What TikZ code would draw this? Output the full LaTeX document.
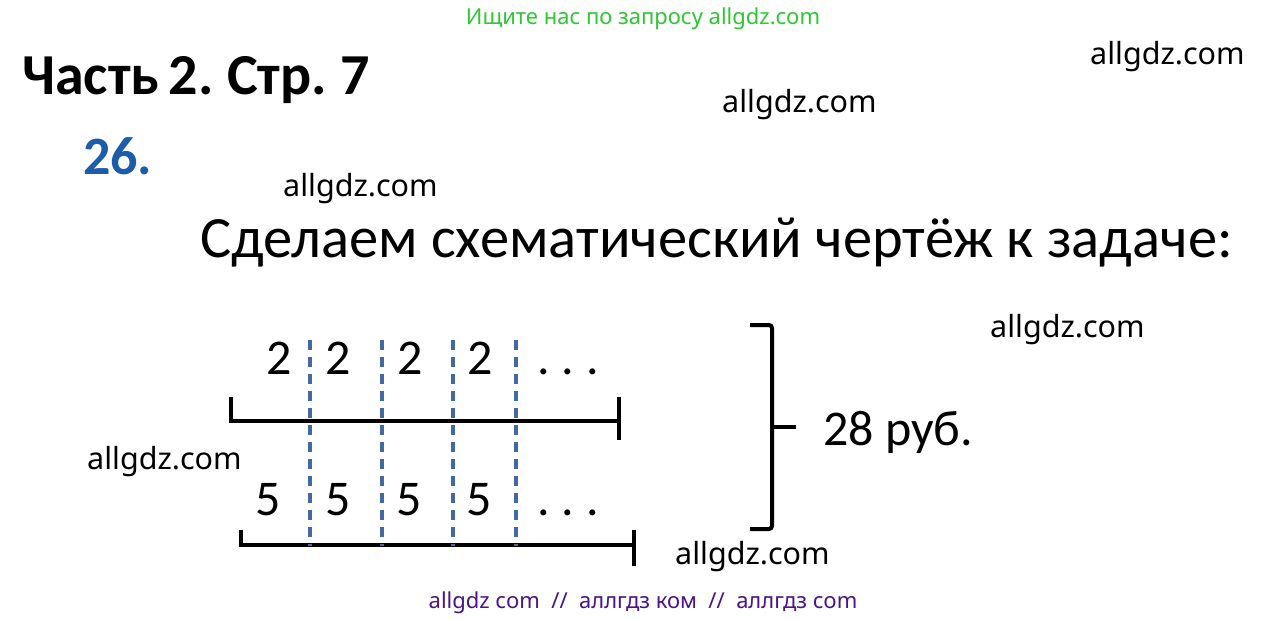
\documentclass[tikz,border=0pt]{standalone}
\usepackage{fontspec}
\setmainfont{Carlito}
\newfontfamily\wmfont{Noto Sans}
\definecolor{wmgreen}{RGB}{45,200,50}
\definecolor{wmpurple}{RGB}{74,20,140}
\definecolor{numblue}{RGB}{28,92,170}
\definecolor{dashblue}{RGB}{64,106,160}
\tikzset{
  wm/.style={font=\wmfont\fontsize{30.5}{36}\selectfont, anchor=base west, inner sep=0pt},
  big/.style={font=\fontsize{50}{60}\selectfont, anchor=base, inner sep=0pt},
  seg/.style={line width=4pt, line cap=butt},
  divline/.style={dashblue, line width=3.5pt, dash pattern=on 10pt off 7pt},
  brace/.style={line width=4pt, rounded corners=3pt}
}
\begin{document}
\begin{tikzpicture}[x=1pt,y=-1pt]
\useasboundingbox[fill=white] (0,0) rectangle (1287,620);
% header texts
\node[font=\wmfont\fontsize{22}{26}\selectfont, text=wmgreen, anchor=base, inner sep=0pt] (top) at (643,25) {Ищите нас по запросу allgdz.com};
\node[font=\bfseries\fontsize{58}{66}\selectfont, anchor=base west, inner sep=0pt] (title) at (22,95) {\spaceskip=0.16em Часть 2. Стр. 7};
\node[font=\bfseries\fontsize{54}{62}\selectfont, text=numblue, anchor=base west, inner sep=0pt] (num) at (83,175) {26.};
\node[font=\fontsize{58.5}{68}\selectfont, anchor=base west, inner sep=0pt] (head) at (200,258) {Сделаем схематический чертёж к задаче:};
% watermarks
\node[wm] (w1) at (1090,65) {allgdz.com};
\node[wm] (w2) at (722,113) {allgdz.com};
\node[wm] (w3) at (283,197) {allgdz.com};
\node[wm] (w4) at (990,337) {allgdz.com};
\node[wm] (w5) at (87,469) {allgdz.com};
\node[wm] (w6) at (675,564) {allgdz.com};
\node[font=\wmfont\fontsize{22}{26}\selectfont, text=wmpurple, anchor=base, inner sep=0pt] (bot) at (643,608) {allgdz com \ // \ аллгдз ком \ // \ аллгдз com};
% segments
\coordinate (a1) at (231,421); \coordinate (a2) at (619,421);
\coordinate (b1) at (241,545); \coordinate (b2) at (634,545);
\draw[seg] (231,397) -- (a1) -- (a2);
\draw[seg] (619,397) -- (619,440);
\draw[seg] (241,530) -- (b1) -- (b2);
\draw[seg] (634,530) -- (634,566);
% dividers
\foreach \x in {310,382,453,516} {
  \draw[divline] (\x,340) -- (\x,546);
}
% numbers
\foreach \x/\n in {279/t1,338/t2,410/t3,480/t4} {
  \node[big] (\n) at (\x,374) {2};
}
\foreach \x/\n in {268/f1,338/f2,409/f3,479/f4} {
  \node[big] (\n) at (\x,515) {5};
}
\node[big] (d1) at (568,374) {.\hspace{12pt}.\hspace{12pt}.};
\node[big] (d2) at (568,515) {.\hspace{12pt}.\hspace{12pt}.};
% brace
\coordinate (bt) at (750,325);
\coordinate (bb) at (750,529);
\coordinate (bm) at (772,427);
\draw[brace] (bt) -- (772,325) -- (772,529) -- (bb);
\draw[line width=4pt] (bm) -- (796,427);
\node[font=\fontsize{50}{60}\selectfont, anchor=base west, inner sep=0pt] (sum) at (823,445) {28 руб.};
\end{tikzpicture}
\end{document}
